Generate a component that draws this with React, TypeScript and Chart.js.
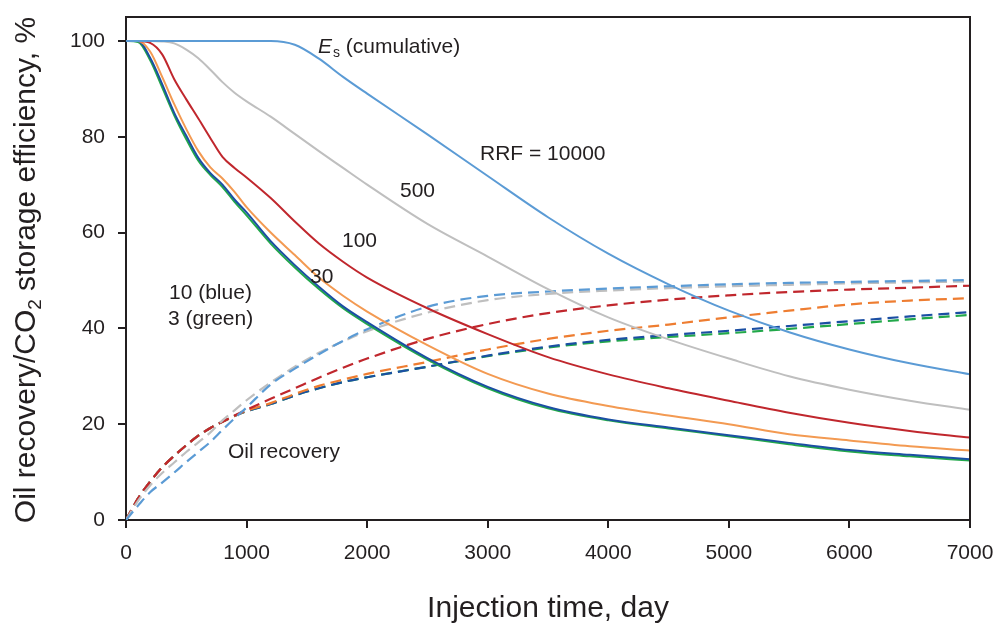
import { useEffect, useRef } from 'react';
import { Chart, registerables } from 'chart.js';

Chart.register(...registerables);

// Injection time, day
const days = [0, 100, 200, 300, 400, 500, 600, 700, 800, 900, 1000, 1200, 1400, 1600, 1800, 2000, 2500, 3000, 3500, 4000, 4500, 5000, 5500, 6000, 6500, 7000];

// E_s (cumulative CO2 storage efficiency), %
const esRRF10000 = [100, 100, 100, 100, 100, 100, 100, 100, 100, 100, 100, 100, 99.2, 96.3, 92.5, 89.0, 80.5, 71.8, 63.2, 55.6, 49.2, 43.7, 39.2, 35.6, 32.7, 30.4];
const esRRF500 = [100, 100, 100, 99.9, 99.5, 98.2, 96.4, 94.0, 91.4, 89.2, 87.4, 84.2, 80.6, 77.0, 73.5, 70.0, 61.8, 55.0, 48.2, 42.3, 37.7, 33.7, 30.0, 27.2, 24.9, 23.0];
const esRRF100 = [100, 100, 99.6, 97.2, 92.0, 87.8, 83.8, 79.7, 75.8, 73.5, 71.5, 67.2, 62.3, 57.7, 53.9, 50.6, 44.2, 38.8, 34.0, 30.4, 27.5, 24.9, 22.4, 20.3, 18.6, 17.2];
const esRRF30 = [100, 100, 97.8, 92.5, 86.8, 81.6, 77.0, 73.6, 71.3, 68.5, 65.3, 60.0, 55.3, 50.6, 46.8, 43.5, 36.5, 30.5, 26.4, 23.8, 21.8, 20.0, 17.9, 16.6, 15.4, 14.5];
const esRRF10 = [100, 100, 96.5, 91.0, 85.0, 80.2, 75.6, 72.4, 70.0, 66.9, 64.2, 58.2, 53.2, 48.7, 44.6, 41.3, 33.8, 27.8, 23.6, 21.0, 19.3, 17.7, 16.1, 14.6, 13.6, 12.7];
const esRRF3 = [100, 99.8, 96.0, 90.3, 84.5, 79.5, 75.0, 72.0, 69.5, 66.4, 63.6, 57.7, 52.7, 48.2, 44.2, 40.9, 33.5, 27.5, 23.3, 20.8, 19.1, 17.5, 15.8, 14.3, 13.3, 12.4];

// Oil recovery, %
const orRRF10000 = [0, 3.0, 5.8, 7.8, 9.9, 12.1, 14.2, 16.3, 18.8, 21.2, 23.5, 28.3, 31.6, 34.6, 37.4, 39.8, 44.5, 46.8, 47.7, 48.3, 48.8, 49.2, 49.5, 49.7, 49.9, 50.1];
const orRRF500 = [0, 4.0, 7.2, 9.8, 12.0, 14.2, 16.2, 18.3, 20.8, 22.9, 25.0, 28.7, 32.0, 34.9, 37.3, 39.4, 43.3, 45.9, 47.2, 47.9, 48.4, 48.8, 49.1, 49.4, 49.6, 49.8];
const orRRF100 = [0, 4.5, 8.0, 11.0, 13.4, 15.6, 17.6, 19.2, 20.5, 21.8, 23.0, 25.3, 27.5, 29.7, 31.8, 33.7, 37.8, 40.9, 43.2, 44.8, 46.0, 46.9, 47.6, 48.1, 48.5, 48.9];
const orRRF30 = [0, 4.5, 8.0, 11.0, 13.4, 15.6, 17.6, 19.2, 20.5, 21.7, 22.8, 24.4, 26.3, 28.0, 29.3, 30.5, 33.0, 35.6, 37.8, 39.5, 40.8, 42.3, 43.7, 45.0, 45.8, 46.3];
const orRRF10 = [0, 4.5, 8.0, 11.0, 13.4, 15.6, 17.6, 19.2, 20.5, 21.7, 22.7, 24.2, 26.0, 27.5, 28.8, 29.8, 32.0, 34.3, 36.2, 37.6, 38.6, 39.5, 40.5, 41.5, 42.5, 43.4];
const orRRF3 = [0, 4.5, 8.0, 11.0, 13.4, 15.6, 17.6, 19.2, 20.5, 21.7, 22.7, 24.2, 26.0, 27.5, 28.8, 29.8, 32.0, 34.2, 36.0, 37.3, 38.2, 39.0, 39.9, 40.9, 41.9, 42.8];

const xTicks = [0, 1000, 2000, 3000, 4000, 5000, 6000, 7000];
const yTicks = [0, 20, 40, 60, 80, 100];

const COLORS = {
  lightBlue: '#5b9bd5',
  gray: '#bfbfbf',
  red: '#c0272d',
  orange: '#f39a52',
  orangeDash: '#ee7d31',
  blue: '#1b4fa3',
  green: '#22a84a',
};
const INK = '#231f20';
const FONT = "'Liberation Sans', Arial, sans-serif";

const pts = (arr: number[]) => days.map((d, i) => ({ x: d, y: arr[i] }));

const solid = (data: number[], color: string) => ({
  data: pts(data),
  borderColor: color,
  borderWidth: 2,
  pointRadius: 0,
  fill: false,
  cubicInterpolationMode: 'monotone' as const,
});
const dashed = (data: number[], color: string) => ({
  data: pts(data),
  borderColor: color,
  borderWidth: 2.2,
  borderDash: [11, 6],
  pointRadius: 0,
  fill: false,
  cubicInterpolationMode: 'monotone' as const,
});

const zeroPad = (s: any) => {
  s.paddingLeft = 0;
  s.paddingRight = 0;
  s.paddingTop = 0;
  s.paddingBottom = 0;
};

const decorPlugin = {
  id: 'decor',
  afterDraw(chart: any) {
    const ctx = chart.ctx as CanvasRenderingContext2D;
    const { left, right, top, bottom } = chart.chartArea;
    ctx.save();
    ctx.strokeStyle = INK;
    ctx.lineWidth = 2;
    ctx.beginPath();
    ctx.moveTo(left - 1, top);
    ctx.lineTo(right, top);
    ctx.lineTo(right, bottom);
    ctx.stroke();

    ctx.fillStyle = INK;
    ctx.textBaseline = 'alphabetic';

    ctx.font = `30px ${FONT}`;
    ctx.textAlign = 'center';
    ctx.fillText('Injection time, day', 548, 617);

    ctx.save();
    ctx.translate(35, 270);
    ctx.rotate(-Math.PI / 2);
    const p1 = 'Oil recovery/CO';
    const p2 = '2';
    const p3 = ' storage efficiency, %';
    ctx.font = `30px ${FONT}`;
    const w1 = ctx.measureText(p1).width;
    const w3 = ctx.measureText(p3).width;
    ctx.font = `19px ${FONT}`;
    const w2 = ctx.measureText(p2).width;
    const total = w1 + w2 + w3;
    let cx = -total / 2;
    ctx.textAlign = 'left';
    ctx.font = `30px ${FONT}`;
    ctx.fillText(p1, cx, 0);
    cx += w1;
    ctx.font = `19px ${FONT}`;
    ctx.fillText(p2, cx, 6);
    cx += w2;
    ctx.font = `30px ${FONT}`;
    ctx.fillText(p3, cx, 0);
    ctx.restore();

    ctx.textAlign = 'left';
    ctx.font = `italic 21px ${FONT}`;
    ctx.fillText('E', 318, 53);
    const we = ctx.measureText('E').width;
    ctx.font = `14px ${FONT}`;
    ctx.fillText('s', 318 + we + 1, 57);
    const ws = ctx.measureText('s').width;
    ctx.font = `21px ${FONT}`;
    ctx.fillText(' (cumulative)', 318 + we + 1 + ws, 53);

    ctx.fillText('RRF = 10000', 480, 160);
    ctx.fillText('500', 400, 197);
    ctx.fillText('100', 342, 247);
    ctx.fillText('30', 310, 283);
    ctx.fillText('10 (blue)', 169, 299);
    ctx.fillText('3 (green)', 168, 325);
    ctx.fillText('Oil recovery', 228, 458);
    ctx.restore();
  },
};

export default function App() {
  const ref = useRef<HTMLCanvasElement | null>(null);
  useEffect(() => {
    if (!ref.current) return;
    const chart = new Chart(ref.current, {
      type: 'line',
      data: {
        datasets: [
          solid(esRRF10000, COLORS.lightBlue),
          solid(esRRF500, COLORS.gray),
          solid(esRRF100, COLORS.red),
          solid(esRRF30, COLORS.orange),
          solid(esRRF10, COLORS.blue),
          solid(esRRF3, COLORS.green),
          dashed(orRRF10000, COLORS.lightBlue),
          dashed(orRRF500, COLORS.gray),
          dashed(orRRF100, COLORS.red),
          dashed(orRRF30, COLORS.orangeDash),
          dashed(orRRF10, COLORS.blue),
          dashed(orRRF3, COLORS.green),
        ] as any,
      },
      options: {
        animation: false,
        responsive: false,
        devicePixelRatio: 1,
        layout: { padding: { top: 17, right: 27, left: 0, bottom: 0 } },
        plugins: { legend: { display: false }, tooltip: { enabled: false } },
        scales: {
          x: {
            type: 'linear',
            min: 0,
            max: 7000,
            afterFit: (s: any) => { s.height = 105; zeroPad(s); },
            afterBuildTicks: (s: any) => { s.ticks = xTicks.map((v) => ({ value: v })); },
            ticks: { color: INK, font: { family: FONT, size: 21 }, padding: 13, maxRotation: 0, callback: (v: any) => String(v) },
            grid: { drawOnChartArea: false, drawTicks: true, tickLength: 8, color: INK, lineWidth: 2 },
            border: { display: true, color: INK, width: 2 },
          },
          y: {
            type: 'linear',
            min: 0,
            max: 105,
            afterFit: (s: any) => { s.width = 126; zeroPad(s); },
            afterBuildTicks: (s: any) => { s.ticks = yTicks.map((v) => ({ value: v })); },
            ticks: { color: INK, font: { family: FONT, size: 21 }, padding: 13, callback: (v: any) => String(v) },
            grid: { drawOnChartArea: false, drawTicks: true, tickLength: 8, color: INK, lineWidth: 2 },
            border: { display: true, color: INK, width: 2 },
          },
        },
      },
      plugins: [decorPlugin],
    });
    return () => chart.destroy();
  }, []);
  return (
    <div style={{ position: 'absolute', left: 0, top: 0, width: 997, height: 625, background: '#fff' }}>
      <canvas ref={ref} width={997} height={625} style={{ width: 997, height: 625 }} />
    </div>
  );
}
